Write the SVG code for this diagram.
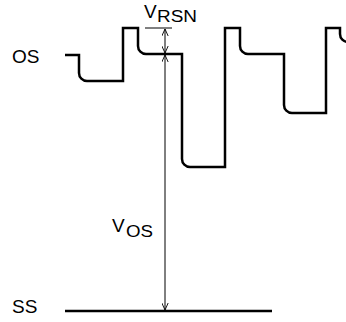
<svg xmlns="http://www.w3.org/2000/svg" width="346" height="322" viewBox="0 0 346 322">
<style>
.wave{fill:none;stroke:#000;stroke-width:2.5;stroke-linejoin:miter}
.thin{fill:none;stroke:#000;stroke-width:1}
.lbl{font-family:"Liberation Sans",Arial,sans-serif;fill:#000;font-size:19px}
.sub{font-size:16px}
</style>
<defs>
<marker id="ah" viewBox="0 0 10 10" refX="10" refY="5" markerWidth="9" markerHeight="7" markerUnits="userSpaceOnUse" orient="auto-start-reverse">
<path d="M0,0.5 L10,5 L0,9.5" fill="none" stroke="#000" stroke-width="1.3"/>
</marker>
</defs>
<g id="labels">
<text class="lbl" x="12" y="63">OS</text>
<text class="lbl" x="12" y="313">SS</text>
<text class="lbl" x="144" y="18">V</text>
<text class="lbl sub" x="157" y="22" textLength="40" lengthAdjust="spacingAndGlyphs">RSN</text>
<text class="lbl" x="112" y="232">V</text>
<text class="lbl sub" x="126" y="237" textLength="27" lengthAdjust="spacingAndGlyphs">OS</text>
</g>
<g id="os-waveform">
<path class="wave" d="M65,55 H79 V73 A8,8 0 0 0 87,81 H123 V28 H138 V46 A8,8 0 0 0 146,54 H182 V159 A8,8 0 0 0 190,167 H225 V28 H240 V46 A8,8 0 0 0 248,54 H284 V105 A8,8 0 0 0 292,113 H326 V28 H340 V34 A8,8 0 0 0 348,42"/>
</g>
<g id="ss-line">
<path class="wave" d="M65,311 H272"/>
</g>
<g id="connectors">
<path class="thin" d="M145,28 H172"/>
<path class="thin" d="M165,29 V53" marker-start="url(#ah)" marker-end="url(#ah)"/>
<path class="thin" d="M165,55 V310" marker-start="url(#ah)" marker-end="url(#ah)"/>
</g>
</svg>
